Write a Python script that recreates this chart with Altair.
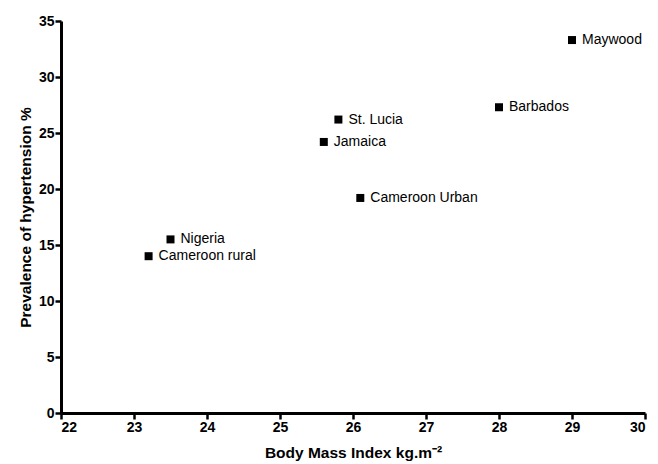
import altair as alt
import pandas as pd

names = ["Maywood", "Barbados", "St. Lucia", "Jamaica", "Cameroon Urban", "Nigeria", "Cameroon rural"]
bmi = [29.0, 28.0, 25.8, 25.6, 26.1, 23.5, 23.2]
prev = [33.3, 27.3, 26.2, 24.2, 19.2, 15.5, 14.0]

df = pd.DataFrame({"name": names, "bmi": bmi, "prev": prev})

x = alt.X("bmi:Q", scale=alt.Scale(domain=[22, 30], nice=False, zero=False),
          axis=alt.Axis(title="Body Mass Index kg.m⁻²", values=list(range(22, 31)),
                        format="d"))
y = alt.Y("prev:Q", scale=alt.Scale(domain=[0, 35], nice=False),
          axis=alt.Axis(title="Prevalence of hypertension %", values=list(range(0, 36, 5))))

pts = alt.Chart(df).mark_square(size=64, color="black", opacity=1).encode(x=x, y=y)
lbl = alt.Chart(df).mark_text(align="left", baseline="middle", dx=10, fontSize=14,
                              font="Liberation Sans", color="black").encode(x=x, y=y, text="name:N")

chart = (pts + lbl).properties(
    width=584, height=392,
    autosize=alt.AutoSizeParams(type="none"),
    padding={"left": 53, "top": 13, "right": 5, "bottom": 50},
).configure_view(
    stroke=None
).configure_axis(
    grid=False, domainColor="black", domainWidth=3, tickColor="black", tickWidth=2.5, tickSize=6,
    labelFont="Liberation Sans", labelFontWeight="bold", labelFontSize=14, labelColor="black",
    titleFont="Liberation Sans", titleFontWeight="bold", titleFontSize=15.5, titleColor="black",
    labelPadding=1
).configure_axisY(titlePadding=5).configure_axisX(titlePadding=11)

chart.save("out.html", embed_options={"renderer": "svg", "actions": False})
